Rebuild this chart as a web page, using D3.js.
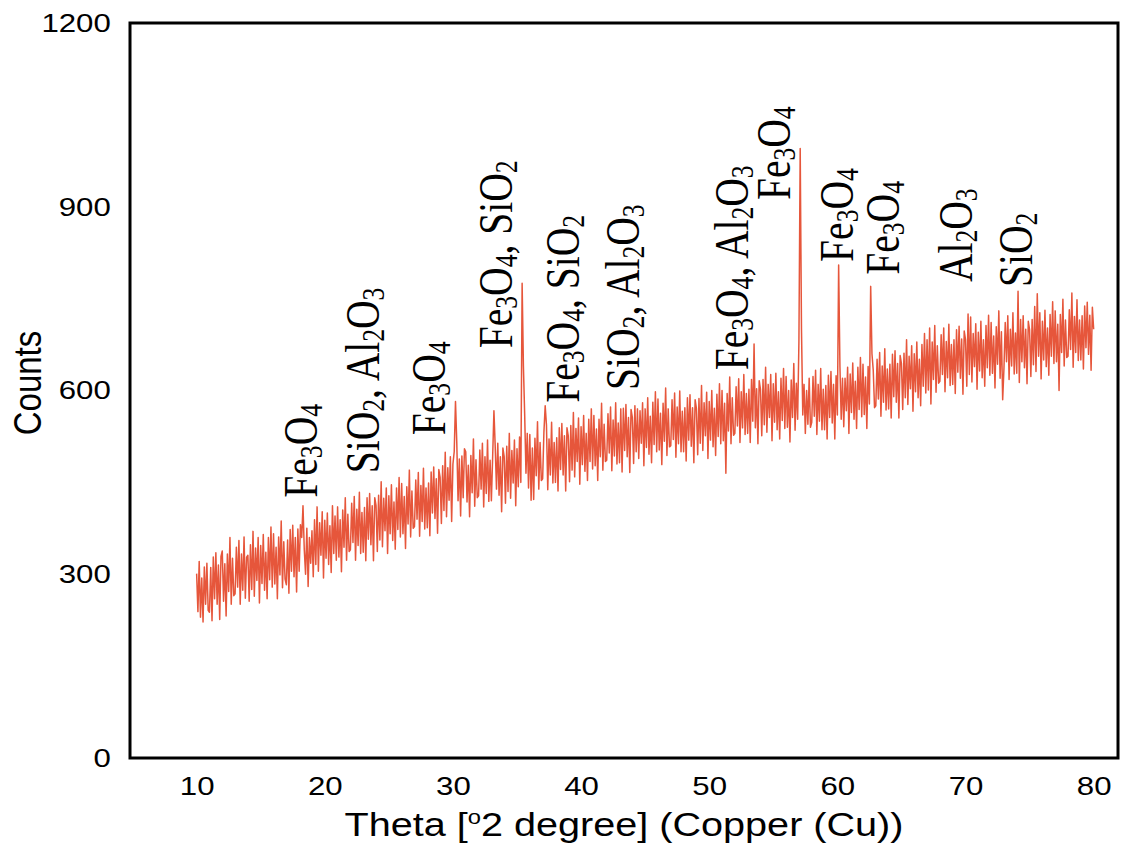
<!DOCTYPE html>
<html lang="en">
<head>
<meta charset="UTF-8">
<title>XRD pattern</title>
<script src="https://d3js.org/d3.v7.min.js"></script>
<style>
  body { margin: 0; background: #ffffff; }
  .sans { font-family: "Liberation Sans", Arial, sans-serif; fill: #000; }
  .serif { font-family: "Liberation Serif", "Times New Roman", serif; fill: #000; }
</style>
</head>
<body>
<svg id="chart" width="1123" height="850"></svg>
<script>
// scan: 10 to 80 degree, one reading every 0.1 degree
const angleStart = 10;
const angleStep = 0.1;
const counts = [
  301,239,321,230,294,222,312,251,318,241,
  238,311,224,328,260,335,251,315,226,329,
  338,256,317,232,333,272,360,251,326,265,
  268,344,279,355,251,333,274,361,261,328,
  331,256,348,275,370,264,343,290,360,253,
  347,285,365,274,336,260,360,291,377,279,
  366,284,344,260,361,299,387,278,353,292,
  283,356,269,373,305,380,296,360,271,374,
  305,381,360,412,340,300,375,280,360,318,
  371,296,389,316,410,305,384,331,402,294,
  388,326,400,316,379,303,412,334,395,323,
  410,328,389,304,405,344,425,323,398,337,
  340,416,352,427,323,406,347,434,334,401,
  336,409,322,425,357,432,348,412,322,425,
  412,337,429,356,451,345,424,371,441,334,
  428,366,446,355,418,341,441,373,458,361,
  448,366,427,342,443,382,470,361,436,375,
  378,454,390,466,362,445,386,473,374,441,
  376,449,363,467,400,475,391,456,367,471,
  458,383,477,404,499,394,474,421,492,386,
  480,500,582,515,420,488,395,493,425,505,
  500,418,478,394,494,433,521,411,487,425,
  428,503,439,514,410,492,432,519,419,486,
  420,492,567,508,439,514,429,492,402,506,
  492,416,509,435,530,424,502,449,519,412,
  505,443,524,450,775,640,560,465,530,441,
  528,421,506,422,522,461,549,439,515,453,
  456,532,575,543,438,521,462,548,449,515,
  450,523,436,539,471,546,462,526,436,539,
  526,451,543,470,564,459,538,484,555,447,
  541,479,559,468,530,453,553,484,570,472,
  559,477,537,453,553,492,579,470,545,484,
  486,562,498,573,469,552,493,580,480,547,
  482,570,467,571,502,577,492,556,466,569,
  556,481,575,500,570,489,567,514,580,477,
  570,507,588,496,558,482,581,512,598,500,
  586,503,563,479,579,517,604,494,570,508,
  510,585,520,596,491,573,513,599,500,566,
  500,572,485,588,519,593,509,572,482,585,
  571,495,587,514,608,502,580,526,597,489,
  582,519,600,508,571,494,594,525,611,513,
  600,518,579,465,595,534,622,513,588,527,
  530,606,542,619,515,598,539,626,528,595,
  530,602,515,618,550,676,539,603,513,616,
  602,526,618,544,638,532,610,556,626,518,
  611,548,628,536,598,521,620,551,636,538,
  623,540,600,516,617,556,644,535,612,553,
  680,995,700,560,610,530,600,545,620,540,
  548,623,558,633,528,610,550,636,536,602,
  536,608,521,625,556,631,547,610,521,624,
  560,805,640,553,620,541,620,567,638,530,
  627,564,645,553,615,538,638,569,654,557,
  643,561,622,538,639,578,770,660,633,572,
  575,651,586,662,558,640,581,668,568,635,
  570,643,555,659,590,665,581,644,555,657,
  644,569,661,588,683,577,656,603,673,566,
  660,598,679,588,651,575,675,607,693,596,
  683,601,702,578,679,618,706,597,673,612,
  615,691,626,702,598,680,621,708,608,675,
  610,683,595,699,630,705,620,684,594,697,
  683,607,725,626,720,614,693,639,709,602,
  695,632,713,621,683,607,706,637,723,625,
  711,628,689,604,704,643,730,620,696,585,
  636,711,647,722,618,700,640,727,627,694,
  628,762,613,716,647,722,637,700,611,713,
  699,623,716,642,737,631,758,656,727,619,
  713,650,731,639,702,625,724,656,745,644,
  730,647,708,600,724,662,749,640,715,654,
  656,732,667,759,638,721,662,748,649,715,
  650,722,635,738,670,744,659,723,633,736,
  700
];

const xTicks = [10, 20, 30, 40, 50, 60, 70, 80];
const yTicks = [0, 300, 600, 900, 1200];

// phase labels, "_n" = subscript digit
const peakLabels = ["Fe_3O_4", "SiO_2, Al_2O_3", "Fe_3O_4", "Fe_3O_4, SiO_2", "Fe_3O_4, SiO_2",
  "SiO_2, Al_2O_3", "Fe_3O_4, Al_2O_3", "Fe_3O_4", "Fe_3O_4", "Fe_3O_4", "Al_2O_3", "SiO_2"];
const labelAngle = [19.4, 24.2, 29.4, 34.6, 39.8, 44.5, 53.0, 56.3, 61.2, 64.8, 70.5, 75.2];
const labelCount = [425, 465, 527, 669, 580, 601, 633, 911, 810, 789, 777, 769];

const svg = d3.select("#chart");
const plot = { left: 130, top: 23, right: 1118, bottom: 758 };
const stretch = 1.2;      // the original figure is a bit wider than tall
const serifStretch = 1.25;

const x = d3.scaleLinear().domain([4.8, 81.9]).range([plot.left, plot.right]);
const y = d3.scaleLinear().domain([0, 1200]).range([plot.bottom, plot.top]);

svg.append("rect")
  .attr("width", 1123).attr("height", 850).attr("fill", "#fff");

// data line
const line = d3.line()
  .x((d, i) => x(angleStart + i * angleStep))
  .y(d => y(d));

svg.append("path")
  .datum(counts)
  .attr("d", line)
  .attr("fill", "none")
  .attr("stroke", "#e6563b")
  .attr("stroke-width", 1.5)
  .attr("stroke-linejoin", "round");

// frame
svg.append("rect")
  .attr("x", plot.left).attr("y", plot.top)
  .attr("width", plot.right - plot.left).attr("height", plot.bottom - plot.top)
  .attr("fill", "none").attr("stroke", "#000").attr("stroke-width", 3);

// axes
const xAxis = svg.append("g")
  .attr("transform", `translate(0,${plot.bottom})`)
  .call(d3.axisBottom(x).tickValues(xTicks).tickSize(0).tickPadding(19));
const yAxis = svg.append("g")
  .attr("transform", `translate(${plot.left},0)`)
  .call(d3.axisLeft(y).tickValues(yTicks).tickFormat(d3.format("d")).tickSize(0).tickPadding(16));

[xAxis, yAxis].forEach(g => {
  g.select(".domain").remove();
  g.selectAll("text")
    .attr("class", "sans")
    .style("font-size", "26px")
    .attr("transform", `scale(${stretch},1)`);
});
svg.selectAll(".tick text").attr("font-family", null);

// axis titles
const xTitle = svg.append("text")
  .attr("class", "sans")
  .attr("text-anchor", "middle")
  .attr("transform", `translate(${(plot.left + plot.right) / 2},836) scale(${stretch},1)`)
  .style("font-size", "33px");
xTitle.append("tspan").text("Theta [");
xTitle.append("tspan").attr("font-size", "60%").attr("dy", -12).text("o");
xTitle.append("tspan").attr("dy", 12).text("2 degree] (Copper (Cu))");

svg.append("text")
  .attr("class", "sans")
  .attr("text-anchor", "middle")
  .attr("transform", `translate(41,383) scale(${stretch},1) rotate(-90)`)
  .style("font-size", "33px")
  .text("Counts");

// peak labels
function addFormula(sel, str) {
  let shifted = false;
  str.split(/(_\d)/).filter(s => s.length).forEach(part => {
    if (part[0] === "_") {
      sel.append("tspan").attr("font-size", "65%").attr("dy", shifted ? 0 : 4).text(part.slice(1));
      shifted = true;
    } else {
      sel.append("tspan").attr("dy", shifted ? -4 : 0).text(part);
      shifted = false;
    }
  });
}

peakLabels.forEach((txt, i) => {
  const t = svg.append("text")
    .attr("class", "serif")
    .attr("transform", `translate(${x(labelAngle[i])},${y(labelCount[i])}) scale(${serifStretch},1) rotate(-90)`)
    .style("font-size", "39.5px");
  addFormula(t, txt);
});
</script>
</body>
</html>
